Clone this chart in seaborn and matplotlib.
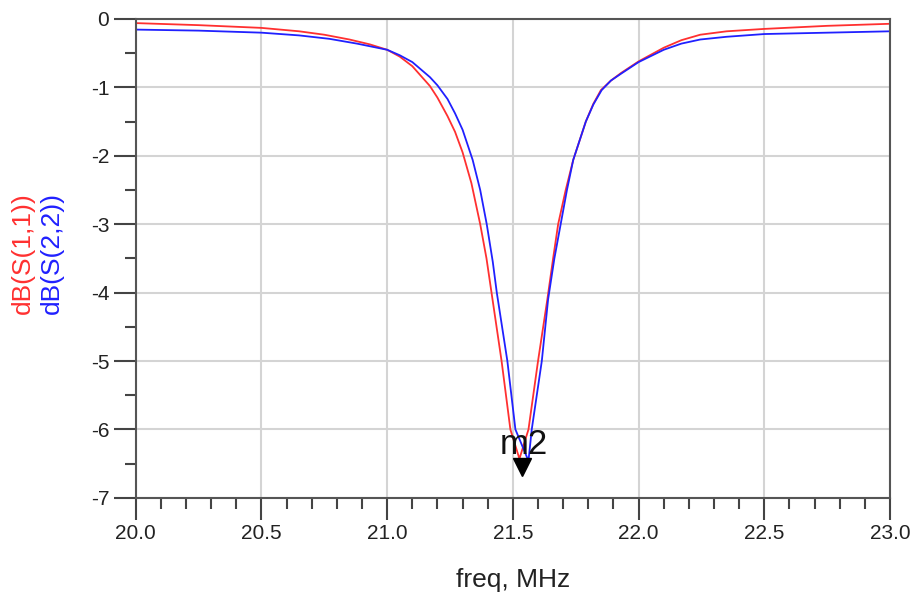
import matplotlib
matplotlib.use("Agg")
import pandas as pd
import matplotlib.pyplot as plt
import seaborn as sns
from matplotlib.ticker import MultipleLocator, FormatStrFormatter

# S11 trace (red)
freq_s11 = [20.0, 20.25, 20.5, 20.65, 20.75, 20.85, 20.93, 21.0, 21.05, 21.1,
            21.17, 21.2, 21.24, 21.27, 21.30, 21.335, 21.37, 21.395, 21.415, 21.455,
            21.49, 21.526, 21.562, 21.60, 21.637, 21.66, 21.68, 21.71, 21.74, 21.79,
            21.82, 21.85, 21.89, 21.93, 22.0, 22.1, 22.17, 22.245, 22.35, 22.5, 22.75, 23.0]
db_s11 = [-0.06, -0.09, -0.13, -0.18, -0.23, -0.30, -0.37, -0.45, -0.55, -0.69,
          -0.98, -1.15, -1.42, -1.65, -1.95, -2.4, -3.0, -3.5, -4.0, -5.0,
          -6.0, -6.43, -6.0, -5.0, -4.1, -3.5, -3.0, -2.5, -2.06, -1.5,
          -1.24, -1.04, -0.9, -0.79, -0.62, -0.42, -0.31, -0.23, -0.18, -0.145, -0.10, -0.07]

# S22 trace (blue)
freq_s22 = [20.0, 20.25, 20.5, 20.65, 20.77, 20.88, 21.0, 21.05, 21.1, 21.17,
            21.2, 21.24, 21.27, 21.30, 21.34, 21.37, 21.396, 21.42, 21.436, 21.478,
            21.51, 21.562, 21.575, 21.615, 21.64, 21.665, 21.69, 21.715, 21.74, 21.79,
            21.82, 21.853, 21.89, 21.93, 22.0, 22.1, 22.17, 22.245, 22.35, 22.5, 22.75, 23.0]
db_s22 = [-0.155, -0.17, -0.20, -0.24, -0.29, -0.36, -0.45, -0.53, -0.63, -0.85,
          -0.97, -1.17, -1.38, -1.62, -2.06, -2.5, -3.0, -3.55, -4.0, -5.0,
          -6.0, -6.46, -6.0, -5.0, -4.1, -3.5, -3.0, -2.5, -2.06, -1.5,
          -1.25, -1.04, -0.9, -0.8, -0.63, -0.45, -0.36, -0.30, -0.26, -0.22, -0.20, -0.18]

trace_names = ["dB(S(1,1))", "dB(S(2,2))"]
trace_colors = ["#ff3030", "#2020ff"]

marker_name = "m2"
marker_freq = 21.537
marker_db = -6.55

df = pd.DataFrame({
    "freq": freq_s11 + freq_s22,
    "db": db_s11 + db_s22,
    "trace": [trace_names[0]] * len(freq_s11) + [trace_names[1]] * len(freq_s22),
})

sns.set_style("white")
plt.rcParams["font.family"] = ["Liberation Sans", "DejaVu Sans"]
plt.rcParams["axes.unicode_minus"] = False

fig = plt.figure(figsize=(9.14, 6.01), dpi=100)
ax = fig.add_axes([0.1485, 0.1717, 0.8253, 0.7967])

sns.lineplot(data=df, x="freq", y="db", hue="trace", hue_order=trace_names,
             palette=dict(zip(trace_names, trace_colors)), estimator=None,
             legend=False, linewidth=1.3, ax=ax)

# marker on the dip
ax.plot([marker_freq], [marker_db], marker="v", color="black", markersize=13, linestyle="none")
ax.annotate(marker_name, xy=(marker_freq, marker_db), xytext=(1.5, 16),
            textcoords="offset points", ha="center", va="center", fontsize=25, color="#111111")

ax.set_xlim(20, 23)
ax.set_ylim(-7, 0)
ax.xaxis.set_major_locator(MultipleLocator(0.5))
ax.xaxis.set_minor_locator(MultipleLocator(0.1))
ax.xaxis.set_major_formatter(FormatStrFormatter("%.1f"))
ax.yaxis.set_major_locator(MultipleLocator(1))
ax.yaxis.set_minor_locator(MultipleLocator(0.5))

ax.tick_params(which="major", direction="out", length=16, width=1.5, color="#444444",
               labelsize=15, labelcolor="#222222", pad=3, bottom=True, left=True)
ax.tick_params(which="minor", direction="out", length=8, width=1.5, color="#444444",
               bottom=True, left=True)
ax.grid(which="major", color="#d4d4d4", linewidth=1.5)
ax.set_axisbelow(True)
for sp in ax.spines.values():
    sp.set_visible(True)
    sp.set_color("#555555")
    sp.set_linewidth(1.5)

ax.set_xlabel("")
ax.set_ylabel("")

# stacked, coloured y labels as in ADS
fig.text(23 / 914, 1 - 253 / 601, trace_names[0], rotation=90, ha="center", va="center",
         fontsize=19, color=trace_colors[0])
fig.text(52 / 914, 1 - 253 / 601, trace_names[1], rotation=90, ha="center", va="center",
         fontsize=19, color=trace_colors[1])
fig.text(513 / 914, 1 - 580 / 601, "freq, MHz", ha="center", va="center",
         fontsize=19, color="#222222")

fig.savefig("out.png", dpi=100)
